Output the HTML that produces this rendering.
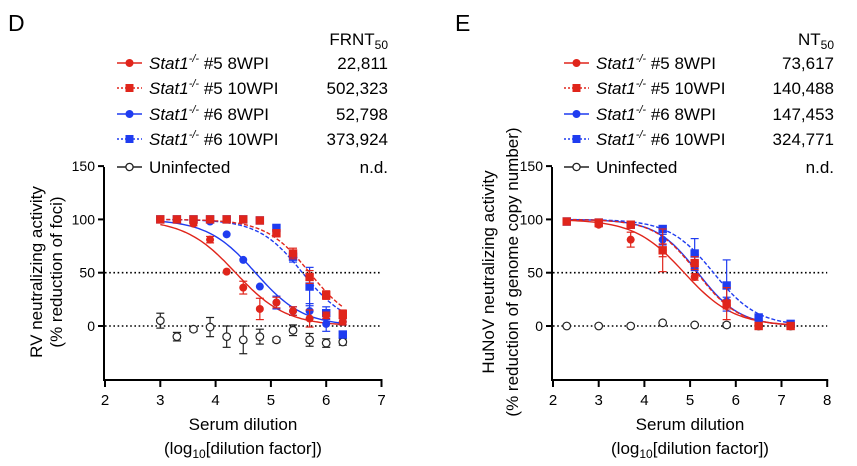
<!DOCTYPE html>
<html><head><meta charset="utf-8"><style>
body{margin:0;background:#fff;}
svg{display:block;font-family:"Liberation Sans",Arial,sans-serif;}
</style></head><body>
<svg id="fig" width="857" height="466" viewBox="0 0 857 466"></svg>
<script>
// ---- Panel D data (RV) ----
const dX = [3,3.3,3.6,3.9,4.2,4.5,4.8,5.1,5.4,5.7,6.0,6.3];
const d5_8 = [100,100,96,81,51,36,16,22,14,7,10,4];
const d5_8err = [0,0,2,3,0,6,10,5,4,8,3,3];
const d5_10 = [100,100,100,100,100,100,99,87,68,46,29,11];
const d5_10err = [0,0,0,0,0,0,0,3,5,6,4,4];
const d6_8 = [100,100,99,98,86,62,37,22,14,14,2,4];
const d6_8err = [0,0,0,0,0,0,0,6,4,7,7,3];
const d6_10 = [100,100,100,100,100,100,99,92,65,37,12,-8];
const d6_10err = [0,0,0,0,0,0,0,2,5,18,6,3];
const dUn = [5,-10,-3,-1,-10,-13,-10,-13,-4,-13,-16,-15];
const dUnErr = [7,4,2,9,10,13,7,2,5,6,4,3];
const dIC = [4.36,5.70,4.72,5.57];
const dHill = [0.95,1.1,1.0,1.1];
const dLegendVals = ["22,811","502,323","52,798","373,924","n.d."];
// ---- Panel E data (HuNoV) ----
const eX = [2.3,3.0,3.7,4.4,5.1,5.8,6.5,7.2];
const e5_8 = [98,95,81,71,46,20,0,0];
const e5_8err = [0,2,7,6,3,4,0,0];
const e5_10 = [98,97,95,71,59,21,0,0];
const e5_10err = [0,2,3,20,6,15,0,0];
const e6_8 = [98,97,95,81,56,23,2,1];
const e6_8err = [0,2,3,5,4,4,0,0];
const e6_10 = [98,97,95,91,68,38,8,2];
const e6_10err = [0,0,2,3,14,24,3,0];
const eUn = [0,0,0,3,1,1,0,0];
const eUnErr = [0,0,0,0,1,2,0,0];
const eIC = [4.87,5.15,5.17,5.51];
const eHill = [0.8,0.95,0.95,0.9];
const eLegendVals = ["73,617","140,488","147,453","324,771","n.d."];
const yTicks = [0,50,100,150];

const NS="http://www.w3.org/2000/svg";
const svg=document.getElementById('fig');
function mk(tag,attrs,parent){const e=document.createElementNS(NS,tag);for(const k in attrs)e.setAttribute(k,attrs[k]);(parent||svg).appendChild(e);return e;}
const RED="#e0251b", BLUE="#1f3cf0";

function yS(v){return 326-v*1.066;}

function panel(cfg){
  const g=mk('g',{});
  
  
  const xS=v=>cfg.x0+(v-cfg.xmin)*cfg.pxu;
  const ax=cfg.x0-1;
  const ya=mk('line',{x1:ax,y1:167,x2:ax,y2:380,stroke:'#000','stroke-width':2},g);
  
  const xa=mk('line',{x1:ax-1,y1:380,x2:xS(cfg.xmax)+1,y2:380,stroke:'#000','stroke-width':2},g);
  
  yTicks.forEach(t=>{
    mk('line',{x1:ax-6,y1:yS(t),x2:ax,y2:yS(t),stroke:'#000','stroke-width':2},g);
    const tx=mk('text',{x:ax-9,y:yS(t)+5,'font-size':14,'text-anchor':'end'},g);tx.textContent=t;
    
  });
  for(let t=cfg.xmin;t<=cfg.xmax;t++){
    mk('line',{x1:xS(t),y1:380,x2:xS(t),y2:387,stroke:'#000','stroke-width':2},g);
    const tx=mk('text',{x:xS(t),y:405,'font-size':15,'text-anchor':'middle'},g);tx.textContent=t;
    
  }
  [0,50].forEach(v=>{
    const l=mk('line',{x1:ax+1,y1:yS(v),x2:xS(cfg.xmax),y2:yS(v),stroke:'#000','stroke-width':1.6,'stroke-dasharray':'1.6 2.6'},g);
    
  });
  const xt=mk('text',{x:cfg.xc,y:430,'font-size':17,'text-anchor':'middle'},g);xt.textContent='Serum dilution';
  
  const xt2=mk('text',{x:cfg.xc,y:454,'font-size':17,'text-anchor':'middle'},g);
  xt2.innerHTML='(log<tspan font-size="12" dy="4">10</tspan><tspan dy="-4">[dilution factor])</tspan>';
  
  cfg.ytitles.forEach((s,i)=>{
    const t=mk('text',{x:0,y:0,'font-size':17,'text-anchor':'middle',transform:`translate(${cfg.ytx[i]},272) rotate(-90)`},g);t.textContent=s;
    
  });
  const pl=mk('text',{x:cfg.lx,y:31,'font-size':23},g);pl.textContent=cfg.letter;
  
  const series=cfg.series;
  const order=[2,3,0,1];
  order.forEach(i=>{
    const s=series[i];
    let d='';
    const x0=cfg.X[0],x1=cfg.X[cfg.X.length-1];
    for(let k=0;k<=80;k++){const x=x0+(x1-x0)*k/80;const y=100/(1+Math.pow(10,(x-cfg.ic[i])*cfg.hill[i]));d+=(k?'L':'M')+xS(x).toFixed(1)+','+yS(y).toFixed(1);}
    const p=mk('path',{d:d,fill:'none',stroke:s.c,'stroke-width':1.4,'stroke-dasharray':s.dash?'4 2':''},g);
    
  });
  const un={v:cfg.un,e:cfg.unErr,c:'#222',shape:'open',id:'uninfected'};
  const drawList=[un].concat(order.map(i=>series[i]));
  drawList.forEach(s=>{
    cfg.X.forEach((x,j)=>{
      const px=xS(x),py=yS(s.v[j]),er=s.e[j]*1.066;
      if(er>0){mk('line',{x1:px,y1:py-er,x2:px,y2:py+er,stroke:s.c,'stroke-width':1.2},g);
        mk('line',{x1:px-4,y1:py-er,x2:px+4,y2:py-er,stroke:s.c,'stroke-width':1.2},g);
        mk('line',{x1:px-4,y1:py+er,x2:px+4,y2:py+er,stroke:s.c,'stroke-width':1.2},g);}
      let m;
      if(s.shape==='circle')m=mk('circle',{cx:px,cy:py,r:4,fill:s.c},g);
      else if(s.shape==='square')m=mk('rect',{x:px-4.2,y:py-4.2,width:8.4,height:8.4,fill:s.c},g);
      else m=mk('circle',{cx:px,cy:py,r:3.8,fill:'#fff',stroke:'#222','stroke-width':1.2},g);
      
      
    });
  });
  const hd=mk('text',{x:cfg.vx,y:45,'font-size':17,'text-anchor':'end'},g);
  hd.innerHTML=cfg.head+'<tspan font-size="12" dy="4">50</tspan>';
  
  const names=['#5 8WPI','#5 10WPI','#6 8WPI','#6 10WPI'];
  const rows=[69,94,120,145,173];
  series.concat([un]).forEach((s,i)=>{
    const y=rows[i]-6, mx=cfg.mx;
    const le=mk('g',{},g);
    
    mk('line',{x1:mx,y1:y,x2:mx+25,y2:y,stroke:s.c,'stroke-width':1.6,'stroke-dasharray':s.dash?'2 2':''},le);
    if(s.shape==='circle')mk('circle',{cx:mx+12.5,cy:y,r:4,fill:s.c},le);
    else if(s.shape==='square')mk('rect',{x:mx+8.5,y:y-4,width:8,height:8,fill:s.c},le);
    else mk('circle',{cx:mx+12.5,cy:y,r:3.6,fill:'#fff',stroke:'#222','stroke-width':1.3},le);
    const t=mk('text',{x:mx+32,y:rows[i],'font-size':17},le);
    if(i<4)t.innerHTML='<tspan font-style="italic">Stat1</tspan><tspan font-size="11" dy="-7" font-style="italic">-/-</tspan><tspan dy="7"> '+names[i]+'</tspan>';
    else t.textContent='Uninfected';
    const v=mk('text',{x:cfg.vx,y:rows[i],'font-size':17,'text-anchor':'end'},le);v.textContent=cfg.vals[i];
  });
}

panel({name:'panel-d-rv',letter:'D',lx:8,x0:105,xmin:2,xmax:7,pxu:55.3,xc:243,X:dX,
  series:[{v:d5_8,e:d5_8err,c:RED,shape:'circle',id:'stat1-5-8wpi'},{v:d5_10,e:d5_10err,c:RED,shape:'square',dash:1,id:'stat1-5-10wpi'},
          {v:d6_8,e:d6_8err,c:BLUE,shape:'circle',id:'stat1-6-8wpi'},{v:d6_10,e:d6_10err,c:BLUE,shape:'square',dash:1,id:'stat1-6-10wpi'}],
  un:dUn,unErr:dUnErr,ic:dIC,hill:dHill,ytitles:['RV neutralizing activity','(% reduction of foci)'],ytx:[42,62],
  head:'FRNT',vals:dLegendVals,vx:388,mx:117});
panel({name:'panel-e-hunov',letter:'E',lx:455,x0:553,xmin:2,xmax:8,pxu:45.7,xc:690,X:eX,
  series:[{v:e5_8,e:e5_8err,c:RED,shape:'circle',id:'stat1-5-8wpi'},{v:e5_10,e:e5_10err,c:RED,shape:'square',dash:1,id:'stat1-5-10wpi'},
          {v:e6_8,e:e6_8err,c:BLUE,shape:'circle',id:'stat1-6-8wpi'},{v:e6_10,e:e6_10err,c:BLUE,shape:'square',dash:1,id:'stat1-6-10wpi'}],
  un:eUn,unErr:eUnErr,ic:eIC,hill:eHill,ytitles:['HuNoV neutralizing activity','(% reduction of genome copy number)'],ytx:[494,518],
  head:'NT',vals:eLegendVals,vx:834,mx:564});
</script>
</body></html>
